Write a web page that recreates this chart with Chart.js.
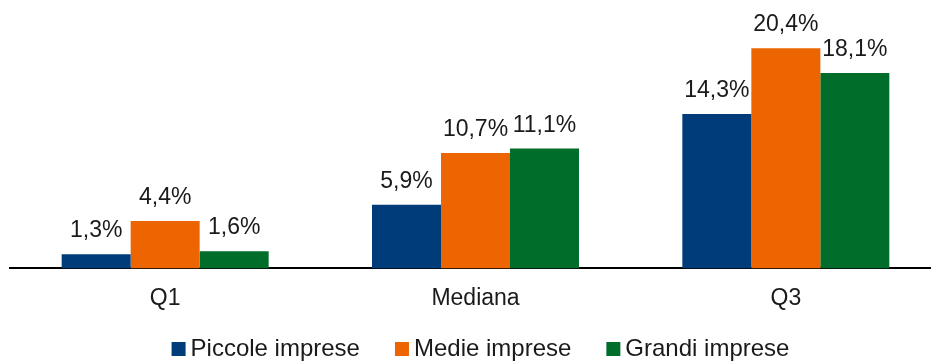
<!DOCTYPE html>
<html>
<head>
<meta charset="utf-8">
<script src="https://cdn.jsdelivr.net/npm/chart.js@4"></script>
<style>
  html, body { margin: 0; padding: 0; background: #fff; overflow: hidden; }
  #wrap { width: 941px; height: 361px; }
</style>
</head>
<body>
<div id="wrap"><canvas id="myChart"></canvas></div>
<script>
const categories = ['Q1', 'Mediana', 'Q3'];
const seriesNames = ['Piccole imprese', 'Medie imprese', 'Grandi imprese'];
const piccole = [1.3, 5.9, 14.3];
const medie = [4.4, 10.7, 20.4];
const grandi = [1.6, 11.1, 18.1];
const colors = ['#003b7a', '#ec6500', '#006d2b'];

const fontFamily = '"Liberation Sans", Arial, sans-serif';
const textColor = '#1a1a1a';

// value labels above each bar, Italian decimal comma
const barLabels = {
  id: 'barLabels',
  afterDatasetsDraw(chart) {
    const c = chart.ctx;
    c.save();
    c.font = '23px ' + fontFamily;
    c.fillStyle = textColor;
    c.textAlign = 'center';
    c.textBaseline = 'alphabetic';
    chart.data.datasets.forEach((ds, i) => {
      chart.getDatasetMeta(i).data.forEach((bar, j) => {
        const txt = ds.data[j].toFixed(1).replace('.', ',') + '%';
        c.fillText(txt, bar.x, bar.y - 17);
      });
    });
    c.restore();
  }
};

// legend row at the bottom: small square, tight gap, label
const bottomLegend = {
  id: 'bottomLegend',
  afterDraw(chart) {
    const c = chart.ctx;
    const box = 14, gap = 5, spacing = 35;
    const y = chart.height - 12;
    const area = chart.chartArea;
    c.save();
    c.font = '24px ' + fontFamily;
    c.textBaseline = 'middle';
    c.textAlign = 'left';
    const items = chart.data.datasets.map(ds => ({
      label: ds.label,
      color: ds.backgroundColor,
      w: c.measureText(ds.label).width
    }));
    let total = items.reduce((s, it) => s + box + gap + it.w, 0) + spacing * (items.length - 1);
    let x = (area.left + area.right - total) / 2 + 5;
    items.forEach(it => {
      c.fillStyle = it.color;
      c.fillRect(x, y - box / 2, box, box);
      c.fillStyle = textColor;
      c.fillText(it.label, x + box + gap, y);
      x += box + gap + it.w + spacing;
    });
    c.restore();
  }
};

const ctx = document.getElementById('myChart');

new Chart(ctx, {
  type: 'bar',
  data: {
    labels: categories,
    datasets: [piccole, medie, grandi].map((d, i) => ({
      label: seriesNames[i],
      data: d,
      backgroundColor: colors[i],
      borderWidth: 0,
      barPercentage: 1,
      categoryPercentage: 0.667
    }))
  },
  options: {
    responsive: true,
    maintainAspectRatio: false,
    animation: false,
    layout: { padding: { top: 5, left: 10, right: 0, bottom: 33 } },
    plugins: {
      tooltip: { enabled: false },
      legend: { display: false }
    },
    scales: {
      x: {
        grid: { display: false, drawTicks: false },
        border: { color: '#000', width: 2 },
        ticks: {
          color: textColor,
          padding: 16,
          font: { family: fontFamily, size: 23 }
        }
      },
      y: {
        display: false,
        min: 0,
        max: 24.4
      }
    }
  },
  plugins: [barLabels, bottomLegend]
});
</script>
</body>
</html>
